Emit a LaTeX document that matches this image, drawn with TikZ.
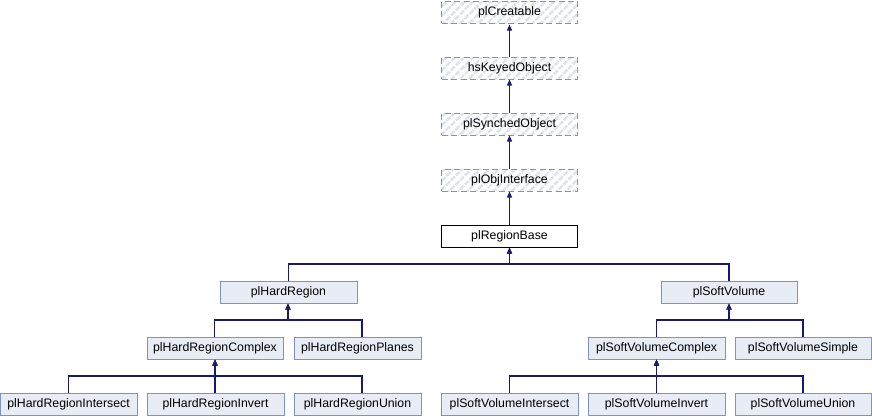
\documentclass[tikz,border=0pt]{standalone}
\usepackage{fontspec}
\setmainfont{Liberation Sans}
\usetikzlibrary{arrows.meta,patterns.meta}
\definecolor{boxfill}{HTML}{E8ECF5}
\definecolor{boxdraw}{HTML}{7B93C6}
\definecolor{hatch}{HTML}{DCE2EF}
\definecolor{edge}{HTML}{191970}
\tikzset{
  lbl/.style={font=\fontsize{12.3}{14}\selectfont},
  cls/.style={lbl, draw=boxdraw, fill=boxfill, line width=1pt, minimum height=22pt, inner sep=0pt},
  main/.style={lbl, draw=black, fill=white, line width=1pt, minimum height=22pt, inner sep=0pt},
  ext/.style={lbl, draw=boxdraw, dash pattern=on 6pt off 3.5pt, line width=1pt, minimum height=22pt, inner sep=0pt,
     pattern={Lines[angle=45,distance=6.5pt,line width=3pt]}, pattern color=hatch},
  conn/.style={draw=edge, line width=1.1pt, -{Triangle[length=6pt,width=5pt]}},
}
\begin{document}
\begin{tikzpicture}[x=1pt,y=-1pt]
\useasboundingbox (0,0) rectangle (872,416);
% top column
\node[ext, minimum width=136pt] (creatable) at (509.5,12) {plCreatable};
\node[ext, minimum width=136pt] (keyed) at (509.5,68) {hsKeyedObject};
\node[ext, minimum width=136pt] (synched) at (509.5,124) {plSynchedObject};
\node[ext, minimum width=136pt] (objif) at (509.5,180) {plObjInterface};
\node[main, minimum width=136pt] (base) at (509.5,236) {plRegionBase};
% row 6
\node[cls, minimum width=137pt] (hard) at (288.5,292) {plHardRegion};
\node[cls, minimum width=136pt] (soft) at (729,292) {plSoftVolume};
% row 7
\node[cls, minimum width=136pt] (hcomplex) at (215,348) {plHardRegionComplex};
\node[cls, minimum width=127pt] (hplanes) at (357.5,348) {plHardRegionPlanes};
\node[cls, minimum width=137pt] (scomplex) at (656.5,348) {plSoftVolumeComplex};
\node[cls, minimum width=136pt] (ssimple) at (803,348) {plSoftVolumeSimple};
% row 8
\node[cls, minimum width=137pt] (hinter) at (68.5,404) {plHardRegionIntersect};
\node[cls, minimum width=137pt] (hinvert) at (215.5,404) {plHardRegionInvert};
\node[cls, minimum width=127pt] (hunion) at (357.5,404) {plHardRegionUnion};
\node[cls, minimum width=137pt] (sinter) at (509.5,404) {plSoftVolumeIntersect};
\node[cls, minimum width=137pt] (sinvert) at (656.5,404) {plSoftVolumeInvert};
\node[cls, minimum width=136pt] (sunion) at (803,404) {plSoftVolumeUnion};
% vertical chain
\draw[conn] (keyed.north) -- (creatable.south);
\draw[conn] (synched.north) -- (keyed.south);
\draw[conn] (objif.north) -- (synched.south);
\draw[conn] (base.north) -- (objif.south);
% buses
\coordinate (b1) at (0,264);
\coordinate (b2) at (0,320);
\coordinate (b3) at (0,376);
\draw[conn] (hard.north) -- (hard.north |- b1) -| (base.south);
\draw[conn] (soft.north) -- (soft.north |- b1) -| (base.south);
\draw[conn] ([xshift=-0.5pt]hcomplex.north) -- ([xshift=-0.5pt]hcomplex.north |- b2) -| ([xshift=-0.5pt]hard.south);
\draw[conn] ([xshift=4.5pt]hplanes.north) -- ([xshift=4.5pt]hplanes.north |- b2) -| ([xshift=-0.5pt]hard.south);
\draw[conn] (hinter.north) -- (hinter.north |- b3) -| (hcomplex.south);
\draw[conn] ([xshift=-0.5pt]hinvert.north) -- ([xshift=-0.5pt]hinvert.north |- b3) -| (hcomplex.south);
\draw[conn] ([xshift=4.5pt]hunion.north) -- ([xshift=4.5pt]hunion.north |- b3) -| (hcomplex.south);
\draw[conn] (scomplex.north) -- (scomplex.north |- b2) -| (soft.south);
\draw[conn] (ssimple.north) -- (ssimple.north |- b2) -| (soft.south);
\draw[conn] (sinter.north) -- (sinter.north |- b3) -| (scomplex.south);
\draw[conn] (sinvert.north) -- (sinvert.north |- b3) -| (scomplex.south);
\draw[conn] (sunion.north) -- (sunion.north |- b3) -| (scomplex.south);
\end{tikzpicture}
\end{document}
